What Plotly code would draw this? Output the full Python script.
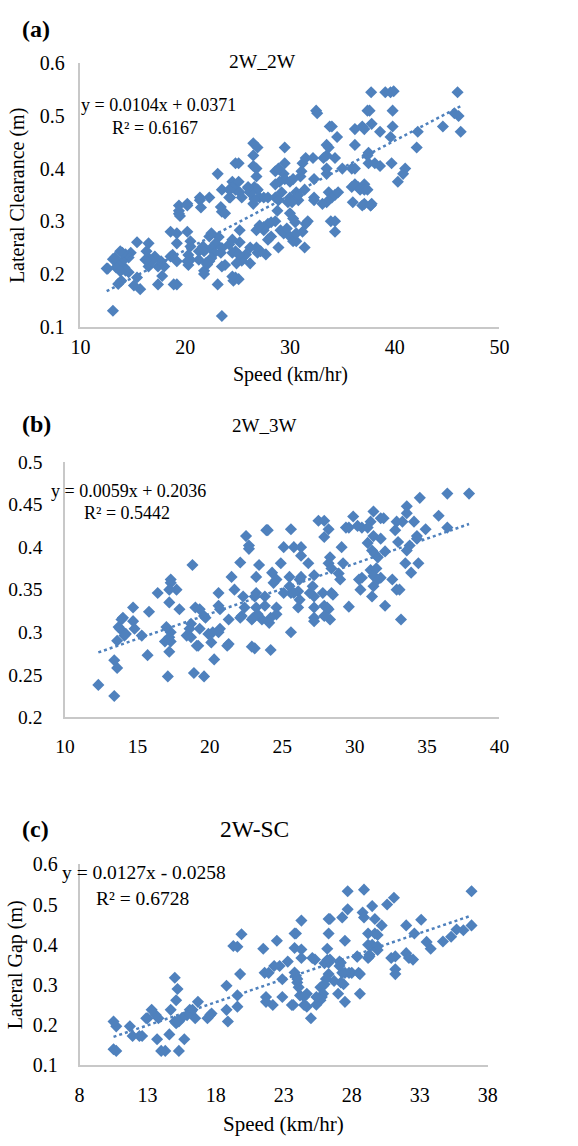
import numpy as np
import plotly.graph_objects as go

# ---------------- data ----------------
A_SPEED = [
    37.75, 39.1, 39.6, 39.9, 46.0, 37.4, 37.6, 39.8, 32.5, 32.6,
    45.7, 46.1, 46.3, 44.6, 42.2, 37.8, 37.1, 36.2, 36.9, 39.8,
    38.6, 39.6, 33.8, 34.0, 34.5, 36.2, 39.7, 42.1, 37.5, 37.4,
    37.5, 38.1, 38.6, 41.0, 40.8, 40.3, 35.0, 35.9, 36.2, 35.9,
    36.5, 37.1, 36.2, 37.7, 36.9, 33.5, 33.5, 33.7, 33.2, 34.3,
    32.3, 33.5, 33.5, 33.7, 34.0, 32.3, 31.5, 32.2, 29.5, 31.2,
    31.1, 31.0, 29.5, 29.4, 29.5, 30.3, 30.0, 29.2, 30.6, 31.4,
    28.6, 28.9, 29.0, 28.6, 30.0, 30.8, 26.5, 26.9, 26.5, 26.5,
    26.8, 26.8, 26.0, 26.6, 26.2, 26.9, 27.1, 27.5, 24.8, 25.1,
    24.5, 25.1, 24.8, 25.2, 25.4, 24.2, 23.1, 23.5, 21.4, 22.3,
    20.2, 19.4, 27.9, 28.6,
    34.3, 34.6, 36.0, 36.7, 37.1, 37.4, 37.1, 37.7, 37.8, 33.5,
    32.3, 33.1, 33.9, 34.3, 34.3, 30.8, 29.8, 30.2, 30.0, 30.3,
    30.5, 31.7, 31.5, 31.2, 31.4, 28.9, 28.8, 28.6, 28.2, 27.9,
    27.5, 27.5, 27.9, 28.2, 29.1, 29.4, 29.7, 30.0, 30.3, 30.6,
    30.6, 28.9, 27.7, 26.9, 27.2, 26.8, 27.1, 26.2, 26.5, 26.6,
    26.9, 26.2, 26.0, 26.8, 26.2, 25.5, 25.4, 25.8, 25.2, 25.2,
    24.8, 24.5, 25.1, 24.9, 24.8, 24.6, 25.1, 24.5, 24.2, 24.5,
    23.8, 23.5, 23.4, 23.5, 23.8, 24.3, 24.5, 24.2, 23.2, 22.9,
    22.5, 22.8, 23.4, 23.5, 22.5, 22.3, 22.1, 21.8, 23.1, 23.5,
    21.7, 21.8, 22.0, 22.3, 22.5, 21.5, 21.4, 21.8, 21.3, 21.3,
    20.3, 20.3, 20.5, 20.2, 20.2, 20.5, 20.5, 20.2, 19.4, 19.5,
    19.4, 19.2, 19.2, 19.2, 19.2, 18.9, 18.6, 18.8, 18.6, 18.0,
    17.4, 17.7, 17.1, 17.8, 17.4, 16.5, 16.5, 16.8, 16.2, 16.5,
    16.3, 15.7, 15.4, 15.4, 15.1, 14.8, 14.6, 14.3, 14.2, 14.0,
    14.6, 14.3, 13.9, 13.6, 13.6, 13.4, 13.8, 13.1, 12.5, 12.6,
    13.1, 13.3, 14.0, 13.8,
]
A_CLEARANCE = [
    0.545, 0.545, 0.545, 0.547, 0.545, 0.51, 0.51, 0.51, 0.51, 0.505,
    0.505, 0.50, 0.47, 0.48, 0.47, 0.485, 0.475, 0.475, 0.48, 0.48,
    0.47, 0.46, 0.48, 0.48, 0.46, 0.445, 0.41, 0.44, 0.43, 0.425,
    0.41, 0.41, 0.405, 0.40, 0.39, 0.375, 0.40, 0.40, 0.40, 0.365,
    0.365, 0.37, 0.37, 0.33, 0.33, 0.445, 0.425, 0.44, 0.42, 0.42,
    0.38, 0.39, 0.40, 0.355, 0.345, 0.345, 0.42, 0.42, 0.44, 0.41,
    0.395, 0.385, 0.41, 0.39, 0.38, 0.38, 0.375, 0.355, 0.355, 0.36,
    0.395, 0.40, 0.375, 0.37, 0.345, 0.34, 0.448, 0.44, 0.425, 0.405,
    0.40, 0.385, 0.365, 0.365, 0.355, 0.36, 0.345, 0.345, 0.41, 0.41,
    0.375, 0.375, 0.36, 0.355, 0.345, 0.345, 0.39, 0.36, 0.34, 0.345,
    0.333, 0.33, 0.345, 0.345,
    0.35, 0.355, 0.336, 0.36, 0.36, 0.36, 0.333, 0.33, 0.333, 0.336,
    0.34, 0.333, 0.30, 0.30, 0.28, 0.35, 0.336, 0.336, 0.315, 0.305,
    0.298, 0.30, 0.295, 0.28, 0.25, 0.34, 0.32, 0.30, 0.298, 0.295,
    0.283, 0.289, 0.265, 0.271, 0.283, 0.277, 0.286, 0.271, 0.262, 0.262,
    0.277, 0.25, 0.237, 0.24, 0.243, 0.283, 0.292, 0.22, 0.333, 0.342,
    0.36, 0.354, 0.363, 0.25, 0.25, 0.231, 0.225, 0.237, 0.26, 0.283,
    0.243, 0.24, 0.237, 0.22, 0.193, 0.187, 0.19, 0.195, 0.256, 0.265,
    0.217, 0.214, 0.327, 0.318, 0.315, 0.345, 0.364, 0.36, 0.27, 0.258,
    0.249, 0.24, 0.24, 0.249, 0.23, 0.224, 0.218, 0.206, 0.18, 0.12,
    0.252, 0.243, 0.221, 0.271, 0.277, 0.326, 0.345, 0.2, 0.243, 0.227,
    0.236, 0.217, 0.227, 0.224, 0.28, 0.262, 0.252, 0.33, 0.32, 0.31,
    0.314, 0.277, 0.258, 0.224, 0.18, 0.18, 0.28, 0.236, 0.233, 0.214,
    0.214, 0.224, 0.233, 0.196, 0.18, 0.214, 0.23, 0.224, 0.227, 0.258,
    0.243, 0.171, 0.26, 0.193, 0.178, 0.24, 0.231, 0.237, 0.212, 0.224,
    0.203, 0.206, 0.187, 0.181, 0.218, 0.212, 0.205, 0.13, 0.21, 0.21,
    0.228, 0.231, 0.24, 0.243,
]

B_SPEED = [
    37.9, 36.4, 34.5, 35.8, 36.4, 34.9, 33.6, 33.6, 34.1, 34.3,
    34.3, 33.8, 33.6, 33.0, 33.5, 34.4, 33.9, 32.8, 33.3, 32.9,
    31.8, 32.0, 31.3, 31.1, 30.5, 30.9, 30.2, 29.9, 29.4, 29.6,
    31.3, 31.8, 30.9, 31.2, 31.4, 31.6, 32.1, 31.1, 31.5, 31.3,
    31.8, 30.5, 29.2, 29.1, 28.3, 28.2, 28.4, 28.9, 28.2, 27.9,
    27.5, 27.9, 27.2, 26.8, 26.3, 26.3, 25.8, 25.6, 25.5, 26.3,
    25.1, 24.9, 24.3, 23.9, 24.0, 23.4, 23.2, 22.7, 22.7, 22.5,
    22.1, 21.5, 18.8, 17.3,
    33.2, 32.9, 33.1, 32.6, 32.1, 31.2, 31.3, 31.6, 30.4, 30.3,
    29.6, 29.0, 28.4, 28.5, 28.3, 28.2, 28.1, 27.9, 27.8, 27.9,
    27.2, 27.2, 27.2, 27.2, 27.1, 26.9, 26.2, 26.1, 26.2, 26.1,
    25.6, 25.5, 25.8, 25.6, 25.1, 24.6, 24.4, 24.6, 24.6, 24.2,
    24.1, 24.2, 23.8, 23.8, 23.6, 23.2, 23.1, 23.2, 23.3, 23.0,
    22.9, 23.1, 22.9, 22.4, 22.2, 22.1, 22.3, 21.7, 21.3, 21.3,
    21.2, 20.7, 20.6, 20.6, 20.7, 20.6, 20.2, 20.1, 19.9, 20.3,
    19.7, 19.6, 19.3, 19.0, 19.3, 19.2, 19.1, 19.6, 18.9, 18.7,
    18.6, 18.4, 18.7, 17.9, 17.7, 17.3, 17.2, 17.2, 17.3, 17.2,
    17.0, 16.9, 17.3, 17.2, 17.1, 16.4, 15.8, 15.7, 15.3, 14.7,
    14.7, 14.8, 14.1, 14.2, 14.0, 13.9, 13.7, 13.8, 13.6, 13.6,
    13.4, 13.4, 12.3,
]
B_CLEARANCE = [
    0.463, 0.463, 0.458, 0.437, 0.423, 0.421, 0.448, 0.44, 0.43, 0.413,
    0.41, 0.402, 0.396, 0.406, 0.381, 0.381, 0.37, 0.42, 0.43, 0.43,
    0.434, 0.434, 0.442, 0.43, 0.423, 0.423, 0.425, 0.436, 0.423, 0.423,
    0.413, 0.41, 0.405, 0.396, 0.392, 0.388, 0.395, 0.373, 0.375, 0.366,
    0.364, 0.364, 0.381, 0.40, 0.388, 0.381, 0.375, 0.369, 0.421, 0.412,
    0.431, 0.431, 0.367, 0.381, 0.40, 0.39, 0.40, 0.421, 0.365, 0.365,
    0.40, 0.381, 0.37, 0.42, 0.42, 0.379, 0.365, 0.398, 0.402, 0.413,
    0.382, 0.365, 0.379, 0.362,
    0.315, 0.35, 0.35, 0.362, 0.331, 0.342, 0.354, 0.362, 0.35, 0.362,
    0.33, 0.362, 0.346, 0.344, 0.315, 0.327, 0.329, 0.331, 0.346, 0.319,
    0.313, 0.317, 0.329, 0.342, 0.354, 0.346, 0.362, 0.348, 0.338, 0.329,
    0.346, 0.354, 0.346, 0.30, 0.346, 0.362, 0.358, 0.329, 0.321, 0.317,
    0.311, 0.279, 0.331, 0.342, 0.315, 0.346, 0.342, 0.329, 0.321, 0.317,
    0.315, 0.281, 0.283, 0.329, 0.319, 0.317, 0.342, 0.35, 0.315, 0.286,
    0.284, 0.327, 0.331, 0.346, 0.304, 0.30, 0.30, 0.288, 0.298, 0.268,
    0.317, 0.319, 0.327, 0.329, 0.304, 0.284, 0.284, 0.248, 0.252, 0.31,
    0.304, 0.296, 0.294, 0.327, 0.35, 0.358, 0.35, 0.335, 0.30, 0.294,
    0.306, 0.289, 0.289, 0.277, 0.248, 0.346, 0.324, 0.273, 0.296, 0.329,
    0.313, 0.304, 0.296, 0.298, 0.317, 0.315, 0.306, 0.304, 0.29, 0.258,
    0.267, 0.225, 0.238,
]

C_SPEED = [
    36.8, 36.8, 36.2, 35.7, 35.3, 34.7, 33.8, 33.5, 33.1, 32.6,
    32.0, 32.0, 32.5, 32.2, 31.2, 30.9, 31.1, 30.6, 30.2, 29.7,
    29.5, 28.9, 28.8, 28.9, 27.7, 27.7, 27.3, 29.2, 29.7, 29.9,
    29.2, 29.5, 29.9, 29.3, 29.9, 28.4, 27.5, 26.3, 26.4, 26.3,
    26.2, 26.2, 26.0, 27.1, 24.3, 23.8, 23.9, 23.8, 24.3, 24.3,
    25.1, 25.3, 23.3, 22.5, 21.5, 19.6, 19.3, 19.9,
    31.2, 31.2, 29.2, 29.3, 28.4, 28.5, 28.0, 27.8, 27.5, 27.3,
    28.6, 28.6, 27.5, 27.0, 27.4, 27.2, 26.7, 27.2, 27.1, 26.4,
    26.3, 26.3, 26.1, 26.0, 25.9, 25.7, 25.9, 25.8, 25.7, 25.4,
    25.4, 25.0, 24.7, 24.5, 24.7, 24.5, 24.2, 24.1, 24.0, 23.9,
    23.8, 24.0, 23.6, 23.7, 22.9, 22.9, 22.7, 22.3, 22.2, 21.7,
    21.7, 21.6, 21.9, 19.8, 19.6, 19.6, 18.8, 18.8, 18.9, 17.6,
    17.4, 17.7, 16.7, 16.5, 16.3, 16.1, 16.2, 15.9, 15.5, 15.3,
    15.1, 15.0, 15.2, 15.1, 15.0, 15.2, 14.7, 14.6, 15.7, 15.3,
    14.3, 14.0, 13.7, 13.8, 13.6, 13.3, 13.0, 12.9, 12.6, 12.4,
    11.9, 11.7, 10.7, 10.5, 10.7, 10.5,
]
C_GAP = [
    0.533, 0.448, 0.436, 0.438, 0.42, 0.408, 0.39, 0.407, 0.462, 0.428,
    0.448, 0.379, 0.363, 0.367, 0.371, 0.367, 0.517, 0.50, 0.448, 0.464,
    0.496, 0.537, 0.48, 0.468, 0.533, 0.488, 0.468, 0.428, 0.428, 0.424,
    0.40, 0.40, 0.396, 0.371, 0.387, 0.37, 0.41, 0.464, 0.464, 0.428,
    0.39, 0.362, 0.354, 0.358, 0.46, 0.428, 0.428, 0.392, 0.388, 0.367,
    0.367, 0.363, 0.358, 0.41, 0.39, 0.395, 0.397, 0.426,
    0.339, 0.327, 0.367, 0.375, 0.371, 0.33, 0.33, 0.33, 0.33, 0.33,
    0.327, 0.278, 0.258, 0.278, 0.302, 0.306, 0.31, 0.355, 0.347, 0.363,
    0.355, 0.327, 0.315, 0.302, 0.298, 0.294, 0.278, 0.27, 0.262, 0.251,
    0.27, 0.217, 0.246, 0.25, 0.278, 0.27, 0.274, 0.294, 0.306, 0.323,
    0.331, 0.315, 0.25, 0.25, 0.314, 0.27, 0.347, 0.347, 0.25, 0.27,
    0.258, 0.33, 0.33, 0.327, 0.274, 0.246, 0.298, 0.238, 0.209, 0.225,
    0.217, 0.229, 0.258, 0.217, 0.238, 0.238, 0.234, 0.225, 0.217, 0.209,
    0.205, 0.209, 0.21, 0.262, 0.318, 0.29, 0.238, 0.177, 0.165, 0.136,
    0.136, 0.136, 0.165, 0.217, 0.225, 0.238, 0.217, 0.217, 0.173, 0.173,
    0.173, 0.197, 0.197, 0.209, 0.136, 0.14,
]

# trend-line coefficients shown on panels (a) and (b); (c) is fitted from its points
TREND_SLOPE = [0.0104, 0.0059, None]
TREND_INTERCEPT = [0.0371, 0.2036, None]

PANEL_LABELS = ["(a)", "(b)", "(c)"]
TITLES = ["2W_2W", "2W_3W", "2W-SC"]
EQUATIONS = ["y = 0.0104x + 0.0371", "y = 0.0059x + 0.2036", "y = 0.0127x - 0.0258"]
R2_TEXT = ["R² = 0.6167", "R² = 0.5442", "R² = 0.6728"]
X_TITLE = "Speed (km/hr)"
Y_TITLES = ["Lateral Clearance (m)", "", "Lateral Gap (m)"]

# ---------------- style ----------------
W, H = 578, 1146
BLUE = "rgb(79,129,189)"
AXIS_GREY = "rgb(200,200,200)"
FONT = "Liberation Serif, Times New Roman, serif"


def px(x):
    return x / W


def py(y):
    return 1 - y / H


fig = go.Figure()

panels = [
    dict(x=A_SPEED, y=A_CLEARANCE, xr=[10, 50], xd=10, yr=[0.1, 0.6], yd=0.1,
         dom_x=[px(73), px(507)], dom_y=[py(321.7), py(53.3)], xstand=2, ystand=10, tfs=20),
    dict(x=B_SPEED, y=B_CLEARANCE, xr=[10, 40], xd=5, yr=[0.2, 0.5], yd=0.05,
         dom_x=[px(57), px(507)], dom_y=[py(720), py(460)], xstand=11, ystand=17, tfs=19.5),
    dict(x=C_SPEED, y=C_GAP, xr=[8, 38], xd=5, yr=[0.1, 0.6], yd=0.1,
         dom_x=[px(72), px(495)], dom_y=[py(1075), py(870)], xstand=11, ystand=16, tfs=20),
]

for i, p in enumerate(panels):
    sfx = "" if i == 0 else str(i + 1)
    xa, ya = "x" + sfx, "y" + sfx
    fig.add_trace(go.Scatter(
        x=p["x"], y=p["y"], mode="markers", xaxis=xa, yaxis=ya,
        marker=dict(symbol="diamond", size=9.3, color=BLUE, line=dict(width=0)),
        showlegend=False, hoverinfo="skip"))
    if TREND_SLOPE[i] is not None:
        slope, icpt = TREND_SLOPE[i], TREND_INTERCEPT[i]
    else:
        slope, icpt = np.polyfit(p["x"], p["y"], 1)
    xs = np.array([min(p["x"]), max(p["x"])])
    fig.add_trace(go.Scatter(
        x=xs, y=slope * xs + icpt, mode="lines", xaxis=xa, yaxis=ya,
        line=dict(color=BLUE, width=2.5, dash="dot"),
        showlegend=False, hoverinfo="skip"))
    axis_common = dict(showgrid=False, zeroline=False, showline=True,
                       linecolor=AXIS_GREY, linewidth=1.5, ticks="",
                       tickfont=dict(family=FONT, size=p["tfs"], color="black"))
    fig.update_layout(**{
        "xaxis" + sfx: dict(domain=p["dom_x"], range=p["xr"], dtick=p["xd"], tick0=p["xr"][0],
                            anchor=ya, ticklabelstandoff=p["xstand"], **axis_common),
        "yaxis" + sfx: dict(domain=p["dom_y"], range=p["yr"], dtick=p["yd"], tick0=p["yr"][0],
                            anchor=xa, ticklabelstandoff=p["ystand"], **axis_common),
    })

ann = []


def text(t, x, y, size, xanchor="center", bold=False, angle=0):
    ann.append(dict(text=("<b>%s</b>" % t) if bold else t, x=px(x), y=py(y),
                    xref="paper", yref="paper", xanchor=xanchor, yanchor="middle",
                    showarrow=False, textangle=angle, borderpad=0,
                    font=dict(family=FONT, size=size, color="black")))


# panel (a)
text(PANEL_LABELS[0], 27, 18, 24, bold=True)
text(TITLES[0], 262, 51, 19.5)
text(EQUATIONS[0], 72, 96, 18, xanchor="left")
text(R2_TEXT[0], 105, 119, 18, xanchor="left")
text(X_TITLE, 291, 371, 20)
text(Y_TITLES[0], 8, 188, 20, angle=-90)
# panel (b)
text(PANEL_LABELS[1], 27, 421, 24, bold=True)
text(TITLES[1], 263, 423, 19)
text(EQUATIONS[1], 41, 489, 18, xanchor="left")
text(R2_TEXT[1], 76, 512, 18, xanchor="left")
# panel (c)
text(PANEL_LABELS[2], 26, 834, 24, bold=True)
text(TITLES[2], 253, 834, 23.5)
text(EQUATIONS[2], 53, 878, 19.5, xanchor="left")
text(R2_TEXT[2], 88, 905, 19.5, xanchor="left")
text(Y_TITLES[2], 6, 972, 20, angle=-90)
text(X_TITLE, 283, 1135, 21)

fig.update_layout(
    width=W, height=H, margin=dict(l=0, r=0, t=0, b=0),
    paper_bgcolor="white", plot_bgcolor="white",
    annotations=ann, showlegend=False,
)

fig.write_html("out.html")
